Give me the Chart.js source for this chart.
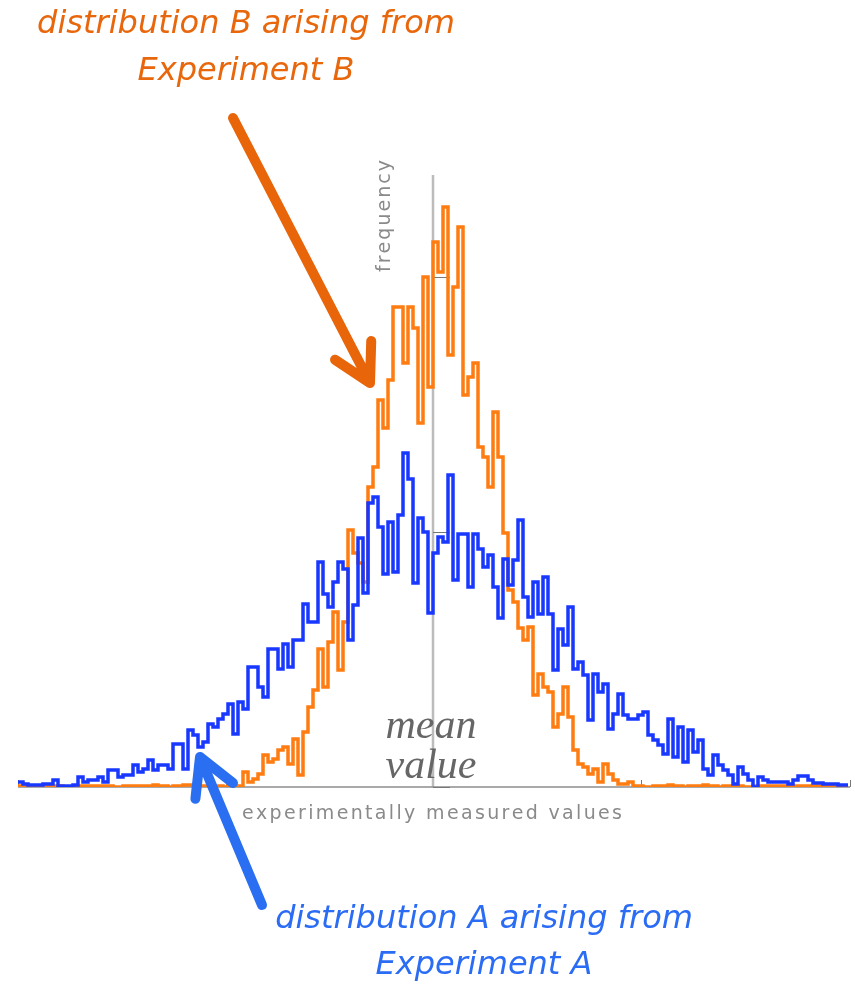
<!DOCTYPE html>
<html>
<head>
    <title>Distribution A vs B</title>
    <script src="https://cdn.jsdelivr.net/npm/chart.js"></script>
    <style>
        body { margin: 0; background: #fff; }
        .wrap { width: 855px; height: 984px; position: relative; }
    </style>
</head>
<body>
    <div class="wrap">
        <canvas id="histChart"></canvas>
    </div>

    <script>
        const binCount = 166;
        const meanBin = 83;

        const freqA = [
            5, 3, 2, 2, 2, 3, 3, 7, 1, 1,
            1, 2, 10, 5, 7, 7, 10, 5, 17, 17,
            10, 12, 12, 22, 15, 18, 27, 17, 22, 22,
            18, 43, 43, 18, 57, 52, 40, 45, 63, 60,
            68, 73, 83, 53, 85, 78, 120, 120, 100, 90,
            138, 138, 118, 143, 120, 147, 147, 183, 165, 165,
            225, 193, 180, 205, 225, 218, 147, 182, 249, 194,
            284, 290, 260, 213, 265, 215, 272, 334, 308, 204,
            269, 255, 174, 234, 250, 245, 312, 207, 253, 253,
            200, 253, 238, 220, 232, 200, 169, 228, 202, 227,
            267, 190, 170, 205, 173, 210, 173, 117, 158, 142,
            180, 118, 125, 112, 67, 113, 95, 103, 58, 73,
            93, 72, 68, 68, 72, 75, 52, 47, 42, 33,
            68, 30, 60, 25, 57, 35, 47, 18, 12, 32,
            22, 17, 12, 3, 20, 13, 7, 0, 10, 7,
            5, 5, 5, 5, 3, 7, 11, 11, 7, 4,
            4, 3, 3, 3, 2, 2
        ];

        const freqB = [
            1, 1, 1, 1, 1, 1, 1, 1, 1, 0,
            0, 1, 1, 1, 1, 1, 1, 1, 1, 0,
            0, 1, 1, 1, 1, 1, 1, 2, 1, 1,
            0, 1, 1, 2, 2, 1, 1, 1, 1, 1,
            1, 0, 1, 0, 1, 15, 5, 8, 13, 32,
            25, 28, 37, 40, 23, 48, 12, 55, 80, 97,
            138, 100, 145, 175, 117, 165, 257, 234, 224, 205,
            300, 320, 387, 359, 407, 480, 480, 424, 480, 459,
            364, 510, 400, 545, 515, 580, 432, 500, 560, 392,
            410, 424, 340, 330, 300, 375, 330, 254, 197, 185,
            159, 147, 160, 92, 113, 100, 95, 60, 73, 100,
            70, 37, 23, 20, 13, 18, 5, 23, 13, 7,
            3, 3, 5, 1, 1, 0, 0, 1, 1, 1,
            2, 1, 1, 0, 1, 1, 1, 2, 1, 1,
            0, 1, 1, 1, 1, 0, 0, 1, 1, 1,
            1, 1, 1, 1, 1, 1, 1, 1, 1, 1,
            1, 1, 1, 1, 1, 1
        ];

        // Axis ticks
        const xTicks = [0, meanBin - 41.5, meanBin + 41.5, binCount + 0.4];
        const yTicks = [0, 255, 510];

        // Text labels
        const labelB = ['distribution B arising from', 'Experiment B'];
        const labelA = ['distribution A arising from', 'Experiment A'];
        const xTitle = 'experimentally measured values';
        const yTitle = 'frequency';
        const meanLabel = ['mean', 'value'];

        // turn the bin list into step points (one extra point closes the last bin)
        function toSteps(values) {
            const pts = values.map((v, i) => ({ x: i, y: v }));
            pts.push({ x: values.length, y: values[values.length - 1] });
            return pts;
        }

        // draw text spread out to a given width
        function spacedText(ctx, text, cx, cy, width) {
            const chars = text.split('');
            const plain = chars.reduce((s, c) => s + ctx.measureText(c).width, 0);
            const gap = (width - plain) / (chars.length - 1);
            let x = cx - width / 2;
            ctx.textAlign = 'left';
            for (const c of chars) {
                ctx.fillText(c, x, cy);
                x += ctx.measureText(c).width + gap;
            }
        }

        function arrow(ctx, x0, y0, x1, y1, color) {
            const back = Math.atan2(y0 - y1, x0 - x1);
            const len = 42, spread = 29 * Math.PI / 180;
            ctx.strokeStyle = color;
            ctx.lineWidth = 10;
            ctx.lineCap = 'round';
            ctx.lineJoin = 'round';
            ctx.beginPath();
            ctx.moveTo(x0, y0);
            ctx.lineTo(x1, y1);
            ctx.moveTo(x1 + len * Math.cos(back + spread), y1 + len * Math.sin(back + spread));
            ctx.lineTo(x1, y1);
            ctx.lineTo(x1 + len * Math.cos(back - spread), y1 + len * Math.sin(back - spread));
            ctx.stroke();
        }

        const decor = {
            id: 'decor',
            beforeDatasetsDraw(chart) {
                const { ctx, scales: { x, y } } = chart;
                const mx = x.getPixelForValue(meanBin);
                const y0 = y.getPixelForValue(0);
                ctx.save();
                // mean line
                ctx.strokeStyle = '#bcbcbc';
                ctx.lineWidth = 2.5;
                ctx.beginPath();
                ctx.moveTo(mx, y.getPixelForValue(612));
                ctx.lineTo(mx, y0);
                ctx.stroke();
                // baseline
                ctx.strokeStyle = '#8c8c8c';
                ctx.lineWidth = 1.5;
                ctx.beginPath();
                ctx.moveTo(x.getPixelForValue(0), y0);
                ctx.lineTo(x.getPixelForValue(binCount + 0.4), y0);
                ctx.stroke();
                // small ticks
                ctx.strokeStyle = '#777';
                ctx.lineWidth = 1;
                xTicks.forEach(t => {
                    const px = Math.round(x.getPixelForValue(t)) + 0.5;
                    ctx.beginPath();
                    ctx.moveTo(px, y0);
                    ctx.lineTo(px, y0 - 7);
                    ctx.stroke();
                });
                yTicks.forEach(t => {
                    const py = Math.round(y.getPixelForValue(t)) + 0.5;
                    ctx.beginPath();
                    ctx.moveTo(mx, py);
                    ctx.lineTo(mx + 17, py);
                    ctx.stroke();
                });
                ctx.restore();
            },
            afterDraw(chart) {
                const { ctx, scales: { x, y } } = chart;
                ctx.save();

                // axis titles
                ctx.fillStyle = '#8a8a8a';
                ctx.textBaseline = 'middle';
                ctx.font = '19px "DejaVu Sans"';
                spacedText(ctx, xTitle, 432, 814, 380);
                ctx.save();
                ctx.translate(385, 216);
                ctx.rotate(-Math.PI / 2);
                spacedText(ctx, yTitle, 0, 0, 112);
                ctx.restore();

                // mean value
                ctx.fillStyle = '#666';
                ctx.textAlign = 'center';
                ctx.textBaseline = 'alphabetic';
                ctx.font = 'italic 42px "Liberation Serif"';
                ctx.fillText(meanLabel[0], 431, 738);
                ctx.fillText(meanLabel[1], 431, 778);

                // annotations
                ctx.textBaseline = 'middle';
                ctx.font = 'italic 32px "DejaVu Sans"';
                ctx.fillStyle = '#e8670c';
                ctx.fillText(labelB[0], 246, 25);
                ctx.fillText(labelB[1], 246, 72);
                ctx.fillStyle = '#2b6cf5';
                ctx.fillText(labelA[0], 484, 920);
                ctx.fillText(labelA[1], 484, 966);

                // arrows pointing at the curves
                arrow(ctx, x.getPixelForValue(43), y.getPixelForValue(669),
                      x.getPixelForValue(70.4), y.getPixelForValue(404), '#e8650a');
                arrow(ctx, x.getPixelForValue(48.8), y.getPixelForValue(-118),
                      x.getPixelForValue(36.4), y.getPixelForValue(30), '#2a6ef2');
                ctx.restore();
            }
        };

        const ctx = document.getElementById('histChart').getContext('2d');
        const chart = new Chart(ctx, {
            type: 'line',
            data: {
                datasets: [
                    {
                        label: 'distribution A',
                        data: toSteps(freqA),
                        borderColor: '#1838ff',
                        borderWidth: 3.5,
                        stepped: true,
                        pointRadius: 0,
                        fill: false
                    },
                    {
                        label: 'distribution B',
                        data: toSteps(freqB),
                        borderColor: '#ff7c10',
                        borderWidth: 3.5,
                        stepped: true,
                        pointRadius: 0,
                        fill: false
                    }
                ]
            },
            options: {
                responsive: true,
                maintainAspectRatio: false,
                animation: false,
                layout: { padding: { left: 18, right: 7, top: 187, bottom: 197 } },
                plugins: { legend: { display: false }, tooltip: { enabled: false } },
                scales: {
                    x: { type: 'linear', min: 0, max: binCount, display: false },
                    y: { min: 0, max: 600, display: false }
                }
            },
            plugins: [decor]
        });
    </script>
</body>
</html>
